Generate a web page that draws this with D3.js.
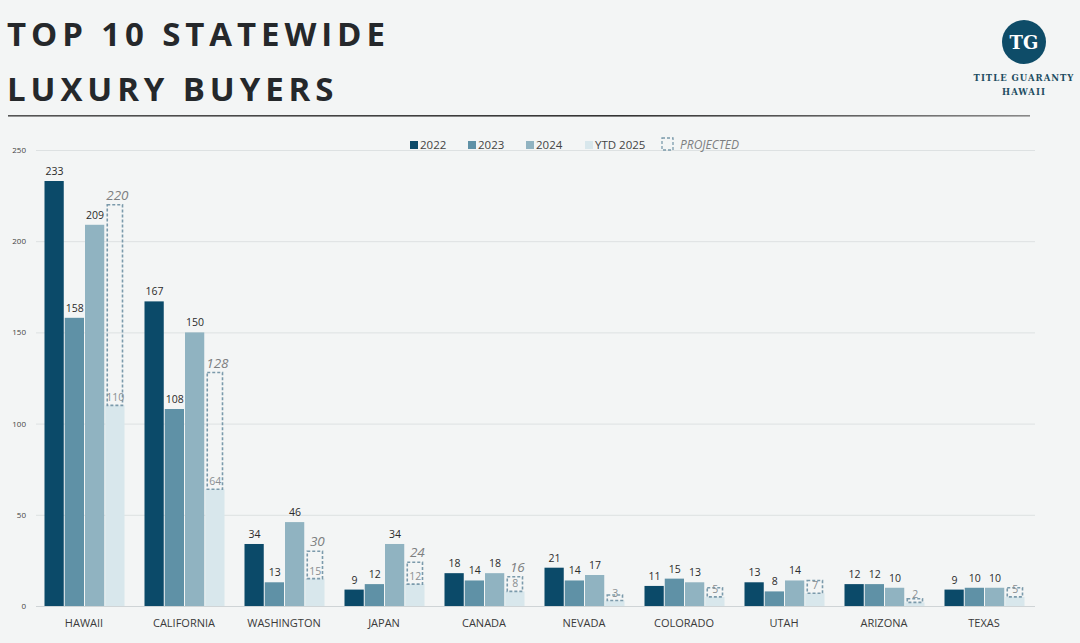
<!DOCTYPE html>
<html>
<head>
<meta charset="utf-8">
<script src="https://cdn.jsdelivr.net/npm/d3@7"></script>
<style>
  html, body { margin: 0; padding: 0; background: #f3f5f5; }
  svg { display: block; font-family: "Open Sans", sans-serif; }
</style>
</head>
<body>
<svg id="chart"></svg>
<script>
let width = 1080;
let height = 643;

// data
let states = ['HAWAII', 'CALIFORNIA', 'WASHINGTON', 'JAPAN', 'CANADA', 'NEVADA', 'COLORADO', 'UTAH', 'ARIZONA', 'TEXAS'];
let v2022 = [233, 167, 34, 9, 18, 21, 11, 13, 12, 9];
let v2023 = [158, 108, 13, 12, 14, 14, 15, 8, 12, 10];
let v2024 = [209, 150, 46, 34, 18, 17, 13, 14, 10, 10];
let ytd2025 = [110, 64, 15, 12, 8, 3, 5, 7, 2, 5];
let projected = [220, 128, 30, 24, 16, 6, 10, 14, 4, 10];
let showProjLabel = [true, true, true, true, true, false, false, false, false, false];
let series = ['2022', '2023', '2024', 'YTD 2025'];
let yTicks = [0, 50, 100, 150, 200, 250];

let color = {
  '2022': '#0b4a69',
  '2023': '#5f91a6',
  '2024': '#90b3c1',
  'YTD 2025': '#d8e7ec'
};

let svg = d3.select('#chart')
  .attr('width', width)
  .attr('height', height);

// title
let title = svg.append('g')
  .style('font-family', '"Open Sans", sans-serif')
  .style('font-weight', 700)
  .style('font-size', '33px')
  .style('letter-spacing', '4.9px')
  .attr('fill', '#25282b');
title.append('text').attr('x', 7).attr('y', 46).text('TOP 10 STATEWIDE');
title.append('text').attr('x', 7).attr('y', 101).text('LUXURY BUYERS');

let lineGrad = svg.append('defs').append('linearGradient').attr('id', 'rule');
lineGrad.append('stop').attr('offset', '0%').attr('stop-color', '#555');
lineGrad.append('stop').attr('offset', '60%').attr('stop-color', '#333');
lineGrad.append('stop').attr('offset', '100%').attr('stop-color', '#888');
svg.append('rect')
  .attr('x', 8).attr('y', 115).attr('width', 1022).attr('height', 1.6)
  .attr('fill', 'url(#rule)');

// logo
let logo = svg.append('g');
logo.append('circle').attr('cx', 1024).attr('cy', 42).attr('r', 22).attr('fill', '#0e4c68');
logo.append('text')
  .attr('x', 1024).attr('y', 49)
  .attr('text-anchor', 'middle')
  .style('font-family', '"DejaVu Serif", serif')
  .style('font-weight', 700)
  .style('font-size', '18px')
  .attr('fill', '#fff')
  .text('TG');
logo.append('text')
  .attr('x', 1024).attr('y', 81)
  .attr('text-anchor', 'middle')
  .style('font-family', '"DejaVu Serif", serif')
  .style('font-weight', 700)
  .style('font-size', '8.5px')
  .style('letter-spacing', '1px')
  .attr('fill', '#1e4d62')
  .text('TITLE GUARANTY');
logo.append('text')
  .attr('x', 1024).attr('y', 95)
  .attr('text-anchor', 'middle')
  .style('font-family', '"DejaVu Serif", serif')
  .style('font-weight', 700)
  .style('font-size', '8.5px')
  .style('letter-spacing', '1px')
  .attr('fill', '#1e4d62')
  .text('HAWAII');

// scales
let x0 = d3.scaleBand()
  .domain(states)
  .range([34, 1034])
  .paddingInner(0.19)
  .paddingOuter(0.095);
let x1 = d3.scaleBand()
  .domain(series)
  .range([0, x0.bandwidth()])
  .padding(0);
let y = d3.scaleLinear()
  .domain([0, 250])
  .range([606, 150]);

// grid
svg.append('g')
  .selectAll('line')
  .data(yTicks)
  .join('line')
  .attr('x1', 36).attr('x2', 1035)
  .attr('y1', d => y(d) + 0.5).attr('y2', d => y(d) + 0.5)
  .attr('stroke', d => d === 0 ? '#cfd4d6' : '#dde1e2')
  .attr('stroke-width', 1);

let yAxis = svg.append('g')
  .attr('transform', 'translate(26,0)')
  .call(d3.axisLeft(y).tickValues(yTicks).tickSize(0).tickPadding(0));
yAxis.select('.domain').remove();
yAxis.selectAll('text')
  .attr('fill', '#444')
  .style('font-size', '8px')
  .style('font-family', '"Open Sans", sans-serif');

let xAxis = svg.append('g')
  .attr('transform', 'translate(0,615)')
  .call(d3.axisBottom(x0).tickSize(0).tickPadding(4));
xAxis.select('.domain').remove();
xAxis.selectAll('text')
  .attr('fill', '#3a3a3a')
  .style('font-size', '11px')
  .style('font-family', '"Open Sans", sans-serif');

// bars
let rows = states.map((s, i) => ({
  state: s,
  vals: [
    { key: '2022', v: v2022[i] },
    { key: '2023', v: v2023[i] },
    { key: '2024', v: v2024[i] },
    { key: 'YTD 2025', v: ytd2025[i] }
  ],
  proj: projected[i],
  ytd: ytd2025[i],
  showProj: showProjLabel[i]
}));

let group = svg.append('g')
  .selectAll('g')
  .data(rows)
  .join('g')
  .attr('transform', d => `translate(${x0(d.state)},0)`);

group.selectAll('rect.bar')
  .data(d => d.vals)
  .join('rect')
  .attr('class', 'bar')
  .attr('x', d => x1(d.key) + 1)
  .attr('y', d => y(d.v))
  .attr('width', x1.bandwidth() - 1)
  .attr('height', d => y(0) - y(d.v))
  .attr('fill', d => color[d.key]);

// projected dashed box
group.append('rect')
  .attr('x', x1('YTD 2025') + 3)
  .attr('y', d => y(d.proj))
  .attr('width', x1.bandwidth() - 5)
  .attr('height', d => y(d.ytd) - y(d.proj))
  .attr('fill', 'none')
  .attr('stroke', '#7b9aab')
  .attr('stroke-width', 1.6)
  .attr('stroke-dasharray', '3,2');

// value labels
group.selectAll('text.val')
  .data(d => d.vals.filter(v => v.key !== 'YTD 2025'))
  .join('text')
  .attr('class', 'val')
  .attr('x', d => x1(d.key) + x1.bandwidth() / 2 + 1)
  .attr('y', d => y(d.v) - 6)
  .attr('text-anchor', 'middle')
  .attr('fill', '#2b2b2b')
  .style('font-size', '10.5px')
  .text(d => d.v);

group.append('text')
  .attr('x', x1('YTD 2025') + x1.bandwidth() / 2 + 1)
  .attr('y', d => y(d.ytd) - 4)
  .attr('text-anchor', 'middle')
  .attr('fill', '#8a8f92')
  .style('font-size', '10.5px')
  .text(d => d.ytd);

group.filter(d => d.showProj)
  .append('text')
  .attr('x', x1('YTD 2025') + x1.bandwidth() / 2 + 3)
  .attr('y', d => y(d.proj) - 5)
  .attr('text-anchor', 'middle')
  .attr('fill', '#7d7f81')
  .style('font-size', '13.5px')
  .style('font-style', 'italic')
  .text(d => d.proj);

// legend
let legendItems = [
  { key: '2022', x: 410 },
  { key: '2023', x: 468 },
  { key: '2024', x: 526 },
  { key: 'YTD 2025', x: 585 }
];
let legend = svg.append('g');
legend.selectAll('rect')
  .data(legendItems)
  .join('rect')
  .attr('x', d => d.x)
  .attr('y', 141)
  .attr('width', 8)
  .attr('height', 8)
  .attr('fill', d => color[d.key]);
legend.selectAll('text')
  .data(legendItems)
  .join('text')
  .attr('x', d => d.x + 10)
  .attr('y', 149)
  .attr('fill', '#444')
  .style('font-size', '11.5px')
  .text(d => d.key);
legend.append('rect')
  .attr('x', 662).attr('y', 138).attr('width', 11).attr('height', 12)
  .attr('fill', 'none')
  .attr('stroke', '#7b9aab')
  .attr('stroke-width', 1.3)
  .attr('stroke-dasharray', '3,2');
legend.append('text')
  .attr('x', 680).attr('y', 149)
  .attr('fill', '#7d7f81')
  .style('font-size', '12px')
  .style('font-style', 'italic')
  .text('PROJECTED');
</script>
</body>
</html>
